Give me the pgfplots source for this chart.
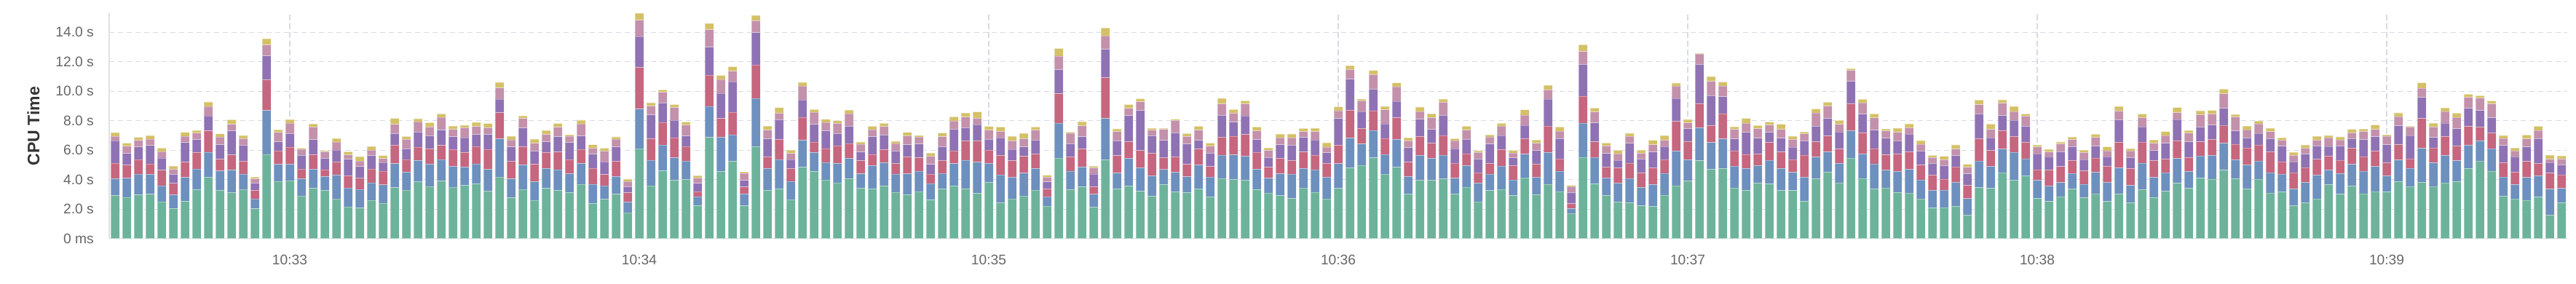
\documentclass[border=0pt]{standalone}
\usepackage{pgfplots}
\pgfplotsset{compat=1.18}
\usepackage{pgfplotstable}
\usepackage{fontspec}
\setmainfont{Liberation Sans}
\definecolor{cG}{HTML}{6DB39B}
\definecolor{cB}{HTML}{6D90BE}
\definecolor{cR}{HTML}{C6667F}
\definecolor{cP}{HTML}{8F72B4}
\definecolor{cK}{HTML}{C391AB}
\definecolor{cY}{HTML}{D4C166}
\definecolor{gridc}{HTML}{D8DBE6}
\definecolor{axisc}{HTML}{E0E0E0}
\definecolor{tickc}{HTML}{666666}
\definecolor{labc}{HTML}{333333}
\pgfplotstableread{
i g b r p k t
0 2.93 1.14 1.05 1.53 0.30 0.25
1 2.80 1.30 0.89 0.79 0.49 0.21
2 2.97 1.40 0.99 0.87 0.44 0.20
3 3.01 1.35 0.72 1.24 0.44 0.23
4 2.50 1.10 1.05 0.82 0.44 0.23
5 2.04 0.94 0.77 0.61 0.35 0.21
6 2.52 1.63 1.04 1.33 0.44 0.25
7 3.33 1.40 1.12 0.87 0.44 0.18
8 4.17 1.70 1.45 1.02 0.63 0.31
9 3.28 1.32 0.79 0.99 0.53 0.20
10 3.13 1.52 1.04 1.63 0.44 0.31
11 3.34 1.05 0.86 1.09 0.44 0.23
12 2.03 0.66 0.59 0.49 0.28 0.13
13 5.72 2.98 2.09 1.61 0.74 0.43
14 3.89 1.15 0.92 0.61 0.64 0.18
15 3.94 1.12 1.15 0.92 0.72 0.23
16 2.90 1.17 0.66 0.92 0.40 0.08
17 3.43 1.28 0.99 1.02 0.86 0.21
18 3.28 0.94 0.46 0.77 0.44 0.08
19 2.70 1.61 0.89 0.82 0.53 0.25
20 2.16 1.28 0.82 1.12 0.31 0.20
21 2.08 1.27 0.77 0.77 0.38 0.30
22 2.60 1.19 0.94 0.91 0.36 0.25
23 2.41 1.24 0.92 0.59 0.28 0.20
24 3.46 1.63 1.25 0.79 0.63 0.40
25 3.29 1.22 0.86 0.72 0.64 0.20
26 3.85 1.45 0.91 1.02 0.71 0.20
27 3.53 1.52 1.04 0.89 0.59 0.30
28 3.90 1.47 0.96 1.04 0.87 0.23
29 3.48 1.43 1.15 0.86 0.49 0.23
30 3.61 1.25 0.99 0.99 0.68 0.18
31 3.71 1.37 1.17 0.82 0.54 0.28
32 3.23 1.47 1.35 1.02 0.46 0.28
33 4.18 2.59 1.78 0.92 0.76 0.38
34 2.77 1.28 1.20 0.97 0.49 0.23
35 3.34 1.66 1.24 1.27 0.64 0.18
36 2.59 1.28 1.17 0.91 0.53 0.28
37 3.41 1.35 1.09 0.72 0.49 0.28
38 3.28 1.40 1.20 1.04 0.64 0.25
39 3.13 1.28 0.96 1.15 0.44 0.08
40 3.69 1.42 0.94 0.92 0.82 0.25
41 2.39 1.30 1.09 0.96 0.40 0.23
42 2.67 0.91 0.77 0.86 0.74 0.18
43 3.01 1.20 1.04 0.97 0.53 0.16
44 1.75 0.74 0.63 0.40 0.36 0.16
45 6.10 2.70 2.82 2.09 1.12 0.48
46 3.59 1.73 1.47 1.61 0.59 0.23
47 4.60 1.75 1.53 1.32 0.74 0.16
48 3.97 1.52 1.35 1.19 0.87 0.20
49 4.02 1.24 1.00 0.71 0.74 0.20
50 2.22 0.63 0.35 0.56 0.36 0.16
51 6.87 2.11 2.11 1.91 1.19 0.41
52 4.56 2.32 1.28 1.71 0.94 0.26
53 5.24 1.80 1.53 2.08 0.72 0.30
54 2.22 0.81 0.48 0.44 0.49 0.08
55 6.24 3.28 2.27 2.19 0.81 0.36
56 3.28 1.48 0.79 1.22 0.59 0.28
57 3.38 1.98 1.38 1.33 0.44 0.38
58 2.64 1.25 0.87 0.61 0.41 0.23
59 4.84 1.83 1.57 1.17 0.94 0.25
60 4.56 1.28 0.72 1.20 0.82 0.18
61 3.99 1.19 0.94 1.19 0.58 0.21
62 3.79 1.32 1.20 0.82 0.69 0.18
63 4.07 1.38 1.00 1.17 0.87 0.23
64 3.43 0.97 0.89 0.59 0.53 0.15
65 3.38 1.57 0.77 1.20 0.48 0.23
66 3.57 1.58 0.89 0.99 0.58 0.21
67 3.15 1.24 0.72 0.84 0.51 0.15
68 2.98 1.42 1.15 0.82 0.61 0.23
69 3.20 1.37 0.92 0.94 0.46 0.12
70 2.62 1.12 0.64 0.66 0.56 0.21
71 3.38 1.05 0.87 0.94 0.68 0.25
72 3.57 1.52 0.87 1.47 0.56 0.28
73 3.38 1.93 1.33 0.89 0.72 0.28
74 3.08 2.11 1.45 1.09 0.44 0.43
75 3.82 1.28 0.91 0.72 0.63 0.25
76 2.44 1.88 1.33 1.19 0.44 0.30
77 2.70 1.47 1.12 0.77 0.58 0.30
78 2.90 1.55 1.14 0.64 0.56 0.35
79 3.29 1.47 0.99 0.94 0.68 0.21
80 2.21 0.63 0.54 0.48 0.31 0.13
81 5.47 2.36 2.01 1.63 0.92 0.51
82 3.33 1.25 0.97 0.89 0.71 0.07
83 3.51 1.35 1.22 0.84 0.74 0.28
84 2.14 0.87 0.51 0.87 0.40 0.13
85 5.35 2.80 2.77 1.93 0.91 0.53
86 3.38 1.07 1.19 0.99 0.64 0.18
87 3.57 1.88 1.12 1.78 0.49 0.26
88 3.21 1.60 1.17 2.72 0.59 0.20
89 2.88 1.38 1.53 1.19 0.38 0.13
90 3.67 1.02 0.79 1.19 0.74 0.08
91 3.18 1.32 1.05 1.63 0.84 0.08
92 3.13 1.07 0.84 1.38 0.51 0.20
93 3.38 1.61 1.09 0.59 0.69 0.26
94 2.83 1.35 0.72 0.89 0.48 0.20
95 4.09 1.57 1.22 1.48 0.79 0.38
96 4.02 1.66 1.28 0.94 0.61 0.25
97 3.97 1.63 1.47 1.27 0.81 0.20
98 3.33 1.38 1.15 0.86 0.59 0.26
99 3.10 1.00 0.74 0.66 0.48 0.18
100 2.92 1.48 1.05 0.92 0.49 0.23
101 2.72 1.66 0.92 1.04 0.51 0.25
102 3.44 1.32 1.12 0.99 0.40 0.21
103 3.15 1.52 0.99 1.05 0.56 0.23
104 2.69 1.48 0.94 0.72 0.38 0.30
105 3.41 1.68 1.25 1.81 0.54 0.26
106 4.81 2.01 1.89 2.11 0.66 0.26
107 4.98 1.45 1.04 1.15 0.74 0.12
108 5.49 1.85 1.33 1.47 0.99 0.28
109 4.38 1.33 1.10 0.99 0.94 0.23
110 4.84 1.89 1.48 1.12 0.99 0.25
111 3.03 1.19 0.97 0.99 0.46 0.20
112 3.97 1.68 1.28 1.17 0.53 0.30
113 3.97 1.48 1.02 0.94 0.81 0.26
114 4.07 1.60 1.32 1.37 0.89 0.21
115 3.03 1.07 1.02 1.00 0.54 0.12
116 3.49 1.47 0.81 0.96 0.64 0.25
117 2.50 1.27 0.71 0.92 0.44 0.13
118 3.26 1.12 0.72 1.33 0.48 0.13
119 3.34 1.58 1.12 0.97 0.63 0.18
120 2.92 1.07 0.97 0.53 0.33 0.16
121 4.13 1.61 1.04 0.92 0.69 0.35
122 2.98 1.19 0.89 0.92 0.49 0.23
123 3.69 2.16 1.80 1.81 0.63 0.33
124 3.20 1.37 0.84 1.38 0.51 0.28
125 1.71 0.33 0.33 0.76 0.40 0.08
126 5.52 2.31 1.83 2.17 0.87 0.46
127 3.71 1.80 1.07 1.28 0.74 0.26
128 2.93 1.19 0.74 0.92 0.51 0.20
129 2.49 1.28 1.02 0.53 0.44 0.23
130 2.44 1.65 1.04 1.35 0.46 0.21
131 2.22 1.25 0.99 0.94 0.40 0.21
132 2.19 1.48 1.14 1.07 0.49 0.30
133 2.95 1.47 0.94 0.89 0.44 0.31
134 3.59 2.36 2.01 1.55 0.84 0.21
135 3.92 1.43 1.24 0.87 0.40 0.23
136 5.29 2.24 1.63 2.67 0.71 0.02
137 4.71 1.81 1.15 2.03 0.97 0.33
138 4.76 2.01 1.71 1.15 0.74 0.26
139 3.44 1.48 1.04 0.81 0.64 0.18
140 3.28 1.48 0.96 1.50 0.61 0.33
141 3.77 1.19 0.79 1.07 0.64 0.21
142 3.71 1.60 1.22 0.69 0.49 0.20
143 3.26 1.50 1.12 0.94 0.59 0.35
144 3.26 1.24 0.86 0.84 0.53 0.23
145 2.54 1.63 1.50 0.96 0.48 0.13
146 4.07 1.47 1.04 1.04 0.92 0.26
147 4.51 1.37 1.09 1.19 0.84 0.26
148 3.79 1.32 0.97 1.17 0.51 0.26
149 5.47 1.86 1.83 1.52 0.74 0.12
150 4.09 1.66 1.43 1.27 0.77 0.23
151 3.38 1.70 1.02 1.27 0.84 0.25
152 3.44 1.20 1.04 1.14 0.49 0.13
153 3.13 1.43 1.19 0.89 0.58 0.28
154 3.10 1.60 1.20 1.19 0.44 0.26
155 2.69 1.30 1.00 0.96 0.46 0.25
156 2.08 1.19 1.04 0.79 0.40 0.15
157 2.11 1.19 0.74 0.91 0.40 0.23
158 2.19 1.63 1.05 0.77 0.44 0.28
159 1.60 1.12 0.89 0.79 0.44 0.20
160 3.46 1.81 1.52 1.68 0.63 0.30
161 3.41 1.50 1.07 0.86 0.58 0.35
162 4.48 1.60 1.25 1.02 0.84 0.23
163 3.97 1.89 1.07 1.10 0.59 0.36
164 4.27 1.15 1.12 1.09 0.69 0.15
165 2.72 1.24 0.71 1.09 0.46 0.13
166 2.52 1.05 1.09 0.91 0.31 0.18
167 2.85 0.96 1.09 1.00 0.53 0.13
168 3.36 1.07 0.87 0.94 0.48 0.18
169 2.77 0.91 0.92 0.76 0.49 0.16
170 3.05 1.45 0.96 0.82 0.59 0.21
171 2.52 1.30 1.09 0.66 0.40 0.26
172 3.03 1.78 1.73 1.53 0.59 0.31
173 2.44 1.17 1.15 0.74 0.46 0.16
174 3.33 1.80 1.42 1.04 0.63 0.23
175 2.78 1.37 1.15 0.68 0.49 0.23
176 3.21 1.27 0.92 1.07 0.54 0.26
177 3.76 1.68 1.20 1.45 0.46 0.35
178 3.41 1.15 0.94 1.07 0.59 0.18
179 4.10 1.52 0.96 1.00 0.84 0.26
180 4.04 1.61 1.09 0.97 0.76 0.23
181 4.65 1.83 1.20 1.17 0.99 0.30
182 4.07 1.28 1.05 0.91 0.94 0.18
183 3.38 1.63 1.14 0.68 0.56 0.25
184 4.04 1.22 1.09 0.79 0.66 0.18
185 3.10 1.38 1.42 0.89 0.48 0.23
186 3.18 1.19 0.86 1.05 0.41 0.16
187 2.24 1.14 1.10 0.74 0.43 0.21
188 2.44 1.38 1.00 0.92 0.40 0.21
189 2.70 1.61 1.07 0.91 0.40 0.25
190 3.67 0.99 0.94 0.66 0.59 0.16
191 3.01 1.40 0.91 0.97 0.41 0.21
192 3.57 1.47 1.10 0.64 0.40 0.23
193 3.05 1.52 1.00 1.15 0.54 0.18
194 3.20 1.70 1.05 0.97 0.49 0.30
195 3.16 1.10 0.89 1.22 0.59 0.08
196 3.87 1.47 1.04 1.28 0.63 0.25
197 3.53 1.24 0.64 1.58 0.58 0.07
198 3.82 2.31 2.03 1.43 0.63 0.36
199 3.54 1.60 1.02 0.71 0.71 0.25
200 3.79 1.86 1.28 0.92 0.79 0.23
201 3.87 1.42 1.00 1.17 0.77 0.28
202 4.76 1.58 1.27 1.24 0.74 0.21
203 5.26 1.38 0.94 1.12 0.84 0.16
204 4.58 1.53 1.05 1.04 0.94 0.20
205 2.88 1.30 0.97 1.17 0.49 0.20
206 2.70 0.97 0.84 1.05 0.40 0.20
207 2.60 1.55 1.09 0.99 0.54 0.26
208 2.82 1.45 0.84 1.68 0.56 0.28
209 1.60 1.76 1.09 0.71 0.23 0.28
210 2.44 0.97 0.91 0.68 0.40 0.21
}\cpu
\begin{document}
\begin{tikzpicture}
\begin{axis}[
  at={(75pt,31.17pt)}, anchor=south west,
  scale only axis, width=1688pt, height=154.7pt,
  xmin=-0.5, xmax=210.5, ymin=0, ymax=15.29,
  ybar stacked, bar width=0.75,
  axis lines*=left,
  axis line style={draw=axisc, line width=0.65pt},
  major tick length=0pt,
  xtick={15,45,75,105,135,165,195},
  xticklabels={10:33,10:34,10:35,10:36,10:37,10:38,10:39},
  ytick={0,2,4,6,8,10,12,14},
  yticklabels={0 ms,2.0 s,4.0 s,6.0 s,8.0 s,10.0 s,12.0 s,14.0 s},
  xmajorgrids, ymajorgrids,
  grid style={draw=gridc, line width=0.6pt, dash pattern=on 3.6pt off 2.4pt},
  tick label style={font=\fontsize{9.6}{11}\selectfont, text=tickc},
  yticklabel style={anchor=east, inner sep=0pt, xshift=-10.4pt},
  xticklabel style={anchor=north, inner sep=0pt, yshift=-11.2pt},
  ylabel={CPU Time},
  ylabel style={at={(axis description cs:-0.0308,0.5)}, anchor=center, font=\fontsize{11.5}{13}\selectfont\bfseries, text=labc},
  every axis plot/.append style={draw=white, draw opacity=0.35, line width=0.3pt},
]
\addplot[fill=cG] table[x=i,y=g]{\cpu};
\addplot[fill=cB] table[x=i,y=b]{\cpu};
\addplot[fill=cR] table[x=i,y=r]{\cpu};
\addplot[fill=cP] table[x=i,y=p]{\cpu};
\addplot[fill=cK] table[x=i,y=k]{\cpu};
\addplot[fill=cY] table[x=i,y=t]{\cpu};
\end{axis}
\pgfresetboundingbox
\path[use as bounding box] (0,0) rectangle (1769pt,195pt);
\end{tikzpicture}
\end{document}
